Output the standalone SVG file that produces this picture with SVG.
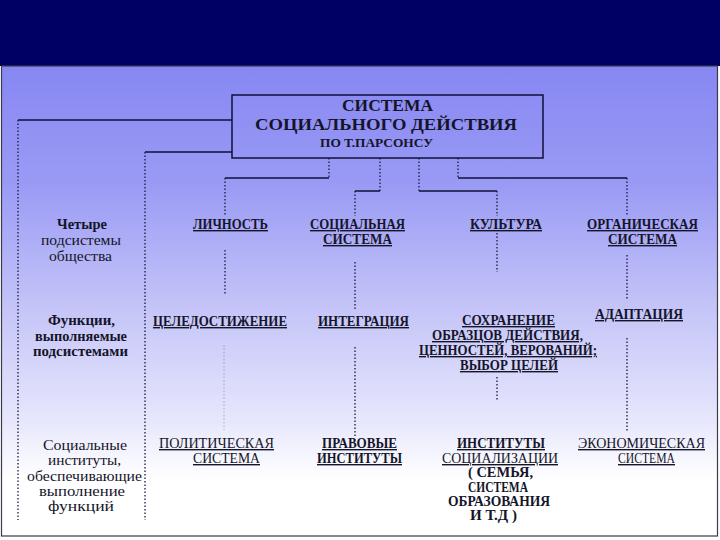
<svg xmlns="http://www.w3.org/2000/svg" width="720" height="540" viewBox="0 0 720 540">
<defs>
<linearGradient id="bg" x1="0" y1="0" x2="0" y2="1">
<stop offset="0" stop-color="#8787f3"/>
<stop offset="0.25" stop-color="#9a9af5"/>
<stop offset="0.5" stop-color="#c2c2f8"/>
<stop offset="0.75" stop-color="#e6e6fc"/>
<stop offset="0.88" stop-color="#ffffff"/>
<stop offset="1" stop-color="#ffffff"/>
</linearGradient>
<style>
.t1{font-size:16.5px;font-weight:bold;}
.t2{font-size:13px;font-weight:bold;}
.lb{font-size:15px;font-weight:bold;}
.lr{font-size:15px;font-weight:normal;}
.h{font-size:14px;font-weight:bold;text-decoration:underline;}
.hr{font-size:14px;font-weight:normal;text-decoration:underline;}
.pr{font-size:14px;font-weight:bold;}
.solid{stroke:#10103a;stroke-width:1.5;fill:none;}
.dot{stroke:#1a1a40;stroke-width:1.3;stroke-dasharray:1.5 2;fill:none;}
.faint{stroke:#1a1a40;stroke-width:1;stroke-dasharray:1.5 2;fill:none;opacity:0.3;}
</style>
</defs>
<rect x="0" y="0" width="720" height="540" fill="#ffffff"/>
<rect x="0" y="0" width="720" height="66" fill="#000064"/>
<rect x="1.5" y="66" width="716" height="470" fill="url(#bg)" stroke="#3a3a4a" stroke-width="1.2"/>

<g id="connectors">
<path class="solid" d="M18 120 H232 M145 152 H232"/>
<path class="dot" d="M18 120 V520 M145 152 V520"/>
<path class="dot" d="M329 158 V178 M380 158 V191 M419 158 V191 M458 158 V178"/>
<path class="solid" d="M225 178 H329 M355 191 H380 M419 191 H497 M458 178 H627"/>
<path class="dot" d="M225 178 V215 M355 191 V216 M497 191 V216 M627 178 V215"/>
<path class="dot" d="M225 250 V295 M355 262 V310 M497 233 V272 M627 255 V300"/>
<path class="dot" d="M355 347 V438 M497 377 V400 M627 338 V432"/>
<path class="faint" d="M224 345 V430"/>
</g>

<g font-family="Liberation Serif, DejaVu Serif, Noto Serif, serif" fill="#15152a" text-anchor="middle">
<g id="root">
<rect x="232" y="95" width="311" height="63" fill="none" stroke="#10103a" stroke-width="1.5"/>
<text class="t1" x="387.5" y="111" textLength="91" lengthAdjust="spacingAndGlyphs">СИСТЕМА</text>
<text class="t1" x="386" y="130" textLength="262" lengthAdjust="spacingAndGlyphs">СОЦИАЛЬНОГО ДЕЙСТВИЯ</text>
<text class="t2" x="376.5" y="147" textLength="113" lengthAdjust="spacingAndGlyphs">ПО Т.ПАРСОНСУ</text>
</g>

<g id="label-subsystems">
<text class="lb" x="82" y="229" textLength="50" lengthAdjust="spacingAndGlyphs">Четыре</text>
<text class="lr" x="81" y="245" textLength="80" lengthAdjust="spacingAndGlyphs">подсистемы</text>
<text class="lr" x="80.5" y="261" textLength="63" lengthAdjust="spacingAndGlyphs">общества</text>
</g>
<g id="label-functions">
<text class="lb" x="81.5" y="325" textLength="67" lengthAdjust="spacingAndGlyphs">Функции,</text>
<text class="lb" x="81" y="341" textLength="92" lengthAdjust="spacingAndGlyphs">выполняемые</text>
<text class="lb" x="80.5" y="356" textLength="95" lengthAdjust="spacingAndGlyphs">подсистемами</text>
</g>
<g id="label-institutions">
<text class="lr" x="85" y="450" textLength="84" lengthAdjust="spacingAndGlyphs">Социальные</text>
<text class="lr" x="84.5" y="465" textLength="73" lengthAdjust="spacingAndGlyphs">институты,</text>
<text class="lr" x="84.5" y="481" textLength="115" lengthAdjust="spacingAndGlyphs">обеспечивающие</text>
<text class="lr" x="82" y="496" textLength="86" lengthAdjust="spacingAndGlyphs">выполнение</text>
<text class="lr" x="81" y="511" textLength="66" lengthAdjust="spacingAndGlyphs">функций</text>
</g>

<g id="personality">
<text class="h" x="230.5" y="229" textLength="75" lengthAdjust="spacingAndGlyphs">ЛИЧНОСТЬ</text>
</g>
<g id="social-system">
<text class="h" x="357.5" y="229" textLength="95" lengthAdjust="spacingAndGlyphs">СОЦИАЛЬНАЯ</text>
<text class="h" x="357.5" y="244" textLength="69" lengthAdjust="spacingAndGlyphs">СИСТЕМА</text>
</g>
<g id="culture">
<text class="h" x="506" y="229" textLength="72" lengthAdjust="spacingAndGlyphs">КУЛЬТУРА</text>
</g>
<g id="organic-system">
<text class="h" x="642.5" y="229" textLength="111" lengthAdjust="spacingAndGlyphs">ОРГАНИЧЕСКАЯ</text>
<text class="h" x="642.5" y="244" textLength="69" lengthAdjust="spacingAndGlyphs">СИСТЕМА</text>
</g>

<g id="goal-attainment">
<text class="h" x="220" y="326" textLength="134" lengthAdjust="spacingAndGlyphs">ЦЕЛЕДОСТИЖЕНИЕ</text>
</g>
<g id="integration">
<text class="h" x="363.5" y="326" textLength="91" lengthAdjust="spacingAndGlyphs">ИНТЕГРАЦИЯ</text>
</g>
<g id="pattern-maintenance">
<text class="h" x="508.5" y="325" textLength="93" lengthAdjust="spacingAndGlyphs" font-size="13">СОХРАНЕНИЕ</text>
<text class="h" x="507.5" y="340" textLength="151" lengthAdjust="spacingAndGlyphs" font-size="13">ОБРАЗЦОВ ДЕЙСТВИЯ,</text>
<text class="h" x="508" y="355" textLength="178" lengthAdjust="spacingAndGlyphs" font-size="13">ЦЕННОСТЕЙ, ВЕРОВАНИЙ;</text>
<text class="h" x="509" y="370" textLength="98" lengthAdjust="spacingAndGlyphs" font-size="13">ВЫБОР ЦЕЛЕЙ</text>
</g>
<g id="adaptation">
<text class="h" x="639" y="319" textLength="88" lengthAdjust="spacingAndGlyphs">АДАПТАЦИЯ</text>
</g>

<g id="political-system">
<text class="hr" x="216.5" y="448" textLength="115" lengthAdjust="spacingAndGlyphs">ПОЛИТИЧЕСКАЯ</text>
<text class="hr" x="226.5" y="463" textLength="67" lengthAdjust="spacingAndGlyphs">СИСТЕМА</text>
</g>
<g id="legal-institutions">
<text class="h" x="359.5" y="448" textLength="75" lengthAdjust="spacingAndGlyphs">ПРАВОВЫЕ</text>
<text class="h" x="359.5" y="463" textLength="85" lengthAdjust="spacingAndGlyphs">ИНСТИТУТЫ</text>
</g>
<g id="socialization-institutions">
<text class="h" x="501" y="448" textLength="88" lengthAdjust="spacingAndGlyphs">ИНСТИТУТЫ</text>
<text class="hr" x="500" y="463" textLength="116" lengthAdjust="spacingAndGlyphs">СОЦИАЛИЗАЦИИ</text>
<text class="pr" x="500.5" y="477" textLength="65" lengthAdjust="spacingAndGlyphs">( СЕМЬЯ,</text>
<text class="pr" x="498" y="492" textLength="60" lengthAdjust="spacingAndGlyphs">СИСТЕМА</text>
<text class="pr" x="499" y="506" textLength="102" lengthAdjust="spacingAndGlyphs">ОБРАЗОВАНИЯ</text>
<text class="pr" x="493.5" y="520" textLength="47" lengthAdjust="spacingAndGlyphs">И Т.Д )</text>
</g>
<g id="economic-system">
<text class="hr" x="641.5" y="448" textLength="127" lengthAdjust="spacingAndGlyphs">ЭКОНОМИЧЕСКАЯ</text>
<text class="hr" x="646.5" y="463" textLength="57" lengthAdjust="spacingAndGlyphs">СИСТЕМА</text>
</g>
</g>
</svg>
